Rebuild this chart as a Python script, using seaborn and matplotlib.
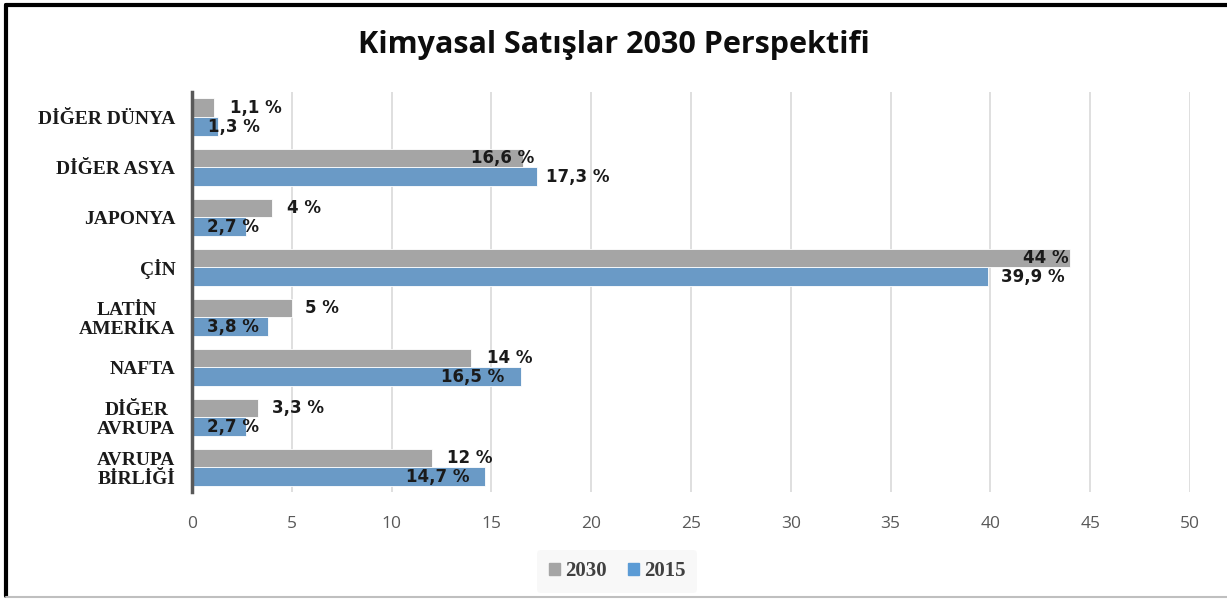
import matplotlib
matplotlib.use("Agg")
import matplotlib.pyplot as plt
from matplotlib.lines import Line2D
import pandas as pd
import seaborn as sns

# data
regions = ["DİĞER DÜNYA", "DİĞER ASYA", "JAPONYA", "ÇİN", "LATİN\nAMERİKA",
           "NAFTA", "DİĞER\nAVRUPA", "AVRUPA\nBİRLİĞİ"]
share_2030 = [1.1, 16.6, 4, 44, 5, 14, 3.3, 12]
share_2015 = [1.3, 17.3, 2.7, 39.9, 3.8, 16.5, 2.7, 14.7]
label_2030 = ["1,1 %", "16,6 %", "4 %", "44 %", "5 %", "14 %", "3,3 %", "12 %"]
label_2015 = ["1,3 %", "17,3 %", "2,7 %", "39,9 %", "3,8 %", "16,5 %", "2,7 %", "14,7 %"]
years = ["2030", "2015"]

# label placement (alignment, pixel offset from bar end), as in the source
place_2030 = [("left", 16), ("right", 11), ("left", 15), ("right", -2),
              ("left", 13), ("left", 16), ("left", 14), ("left", 15)]
place_2015 = [("left", -10), ("left", 9), ("left", -39), ("left", 13),
              ("left", -61), ("right", -17), ("left", -39), ("right", -16)]

COLORS = {"2030": "#A5A5A5", "2015": "#5B9BD5"}

sns.set_style("white")
plt.rcParams["font.family"] = ["DejaVu Sans"]

df = pd.DataFrame({
    "region": regions * 2,
    "value": share_2030 + share_2015,
    "year": ["2030"] * len(regions) + ["2015"] * len(regions),
})

fig = plt.figure(figsize=(12.27, 5.99), dpi=100)
ax = fig.add_axes([0.1565, 0.178, 0.8133, 0.668])

sns.barplot(data=df, y="region", x="value", hue="year", hue_order=years,
            palette=COLORS, orient="h", width=0.75, edgecolor="white",
            linewidth=0.6, ax=ax, legend=False)

ax.set_xlim(0, 50)
ax.set_xticks(range(0, 51, 5))
ax.set_ylim(7.5, -0.5)
ax.set_xlabel("")
ax.set_ylabel("")
ax.xaxis.grid(True, color="#D9D9D9", linewidth=1.2)
ax.set_axisbelow(True)
for side in ["top", "right", "bottom"]:
    ax.spines[side].set_visible(False)
ax.spines["left"].set_color("#595959")
ax.spines["left"].set_linewidth(2.5)

ax.tick_params(axis="x", length=5, width=1.2, color="#BFBFBF", pad=12,
               labelsize=12.5, labelcolor="#595959")
for lab in ax.get_xticklabels():
    lab.set_family("Open Sans")
ax.tick_params(axis="y", length=0, pad=12)
ax.set_yticks(range(len(regions)))
ax.set_yticklabels(regions, family="Liberation Serif", fontweight="bold",
                   fontsize=14, color="#1A1A1A", linespacing=1.1,
                   multialignment="center")

bar_off = 0.75 / 4
for i in range(len(regions)):
    for vals, labs, places, dy in [(share_2030, label_2030, place_2030, -bar_off),
                                   (share_2015, label_2015, place_2015, bar_off)]:
        ha, dx = places[i]
        ax.annotate(labs[i], xy=(vals[i], i + dy), xytext=(dx, 0),
                    textcoords="offset pixels", ha=ha, va="center",
                    fontsize=12, fontweight="bold", color="#1A1A1A")

handles = [plt.Rectangle((0, 0), 1, 1, color=COLORS[y]) for y in years]
leg = fig.legend(handles, years, loc="center", bbox_to_anchor=(0.503, 0.046),
                 ncol=2, frameon=True, handlelength=0.55, handleheight=0.55,
                 handletextpad=0.25, columnspacing=1.0, borderpad=0.55,
                 prop={"family": "Liberation Serif", "weight": "bold", "size": 15})
leg.get_frame().set_facecolor("#F7F7F7")
leg.get_frame().set_edgecolor("none")
for t in leg.get_texts():
    t.set_color("#404040")

fig.text(0.5, 0.925, "Kimyasal Satışlar 2030 Perspektifi", ha="center", va="center",
         fontsize=22, fontweight="bold", family="Open Sans", color="#0D0D0D")

# outer frame
fig.add_artist(Line2D([6 / 1227, 1], [1 - 5 / 599] * 2, color="black", lw=3))
fig.add_artist(Line2D([6 / 1227] * 2, [3 / 599, 1 - 5 / 599], color="black", lw=3))
fig.add_artist(Line2D([6 / 1227, 1], [2 / 599] * 2, color="#BFBFBF", lw=1.5))

fig.savefig("out.png", dpi=100, facecolor="white")
